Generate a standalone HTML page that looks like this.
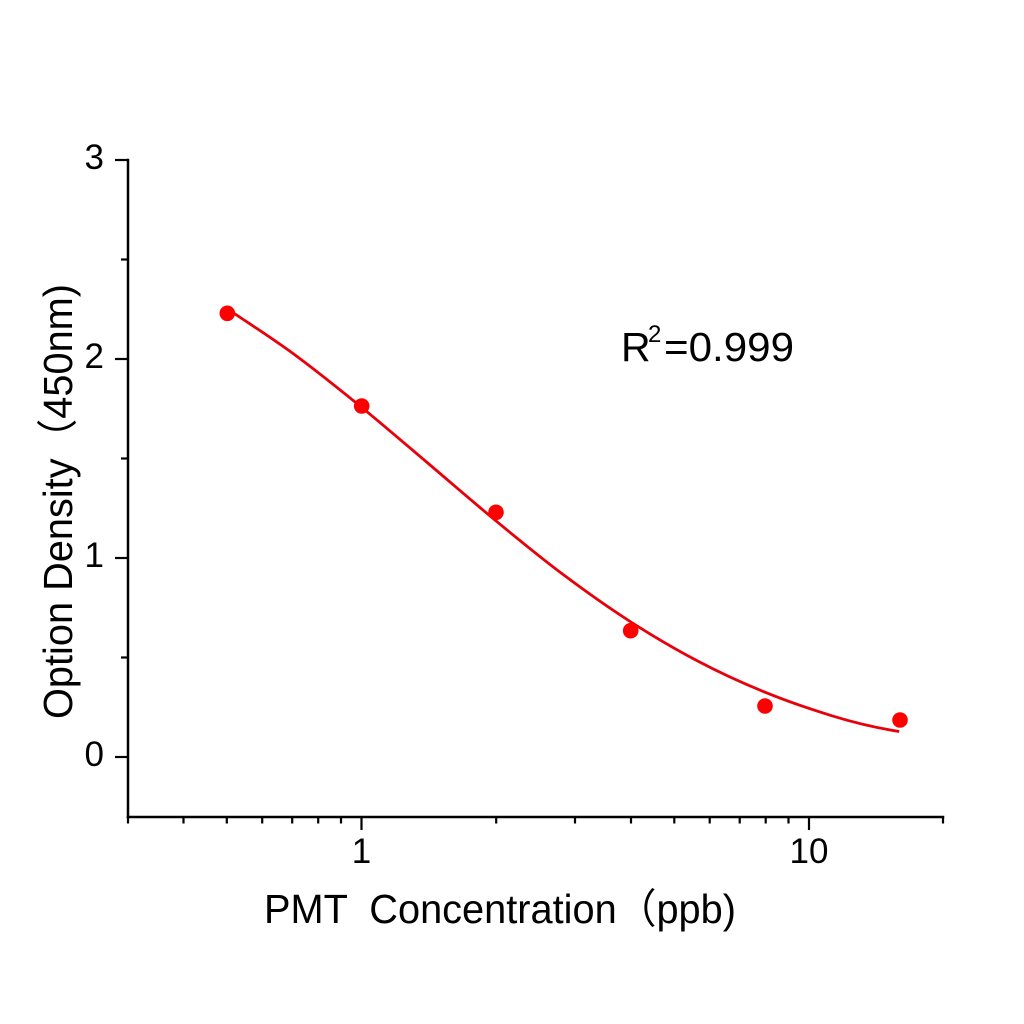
<!DOCTYPE html>
<html>
<head>
<meta charset="utf-8">
<style>
  html,body{margin:0;padding:0;background:#fff;}
  svg{display:block;}
  text{font-family:"Liberation Sans","Noto Sans CJK SC",sans-serif;fill:#000;}
</style>
</head>
<body>
<svg width="1024" height="1024" viewBox="0 0 1024 1024" xmlns="http://www.w3.org/2000/svg">
  <rect x="0" y="0" width="1024" height="1024" fill="#fff"/>

  <!-- axes -->
  <g stroke="#000" stroke-width="2.5" fill="none" stroke-linecap="square">
    <line x1="128" y1="160" x2="128" y2="817"/>
    <line x1="128" y1="817" x2="943" y2="817"/>
  </g>

  <!-- y ticks -->
  <g stroke="#000" stroke-width="2.2">
    <line x1="115" y1="160" x2="128" y2="160"/>
    <line x1="115" y1="359" x2="128" y2="359"/>
    <line x1="115" y1="558" x2="128" y2="558"/>
    <line x1="115" y1="757" x2="128" y2="757"/>
    <line x1="121" y1="259.5" x2="128" y2="259.5"/>
    <line x1="121" y1="458.5" x2="128" y2="458.5"/>
    <line x1="121" y1="657.5" x2="128" y2="657.5"/>
  </g>

  <!-- x ticks -->
  <g stroke="#000" stroke-width="2.2">
    <line x1="361.5" y1="817" x2="361.5" y2="830"/>
    <line x1="809" y1="817" x2="809" y2="830"/>
    <line x1="128" y1="817" x2="128" y2="823.5"/>
    <line x1="183.5" y1="817" x2="183.5" y2="823.5"/>
    <line x1="226.8" y1="817" x2="226.8" y2="823.5"/>
    <line x1="262.2" y1="817" x2="262.2" y2="823.5"/>
    <line x1="292.2" y1="817" x2="292.2" y2="823.5"/>
    <line x1="318.2" y1="817" x2="318.2" y2="823.5"/>
    <line x1="341" y1="817" x2="341" y2="823.5"/>
    <line x1="496.2" y1="817" x2="496.2" y2="823.5"/>
    <line x1="575" y1="817" x2="575" y2="823.5"/>
    <line x1="631" y1="817" x2="631" y2="823.5"/>
    <line x1="674.3" y1="817" x2="674.3" y2="823.5"/>
    <line x1="709.7" y1="817" x2="709.7" y2="823.5"/>
    <line x1="739.7" y1="817" x2="739.7" y2="823.5"/>
    <line x1="765.7" y1="817" x2="765.7" y2="823.5"/>
    <line x1="788.5" y1="817" x2="788.5" y2="823.5"/>
    <line x1="943" y1="817" x2="943" y2="823.5"/>
  </g>

  <!-- y tick labels -->
  <g font-size="35" text-anchor="end">
    <text x="104" y="169">3</text>
    <text x="104" y="368">2</text>
    <text x="104" y="567">1</text>
    <text x="104" y="766">0</text>
  </g>

  <!-- x tick labels -->
  <g font-size="35" text-anchor="middle">
    <text x="361.5" y="863">1</text>
    <text x="809" y="863">10</text>
  </g>

  <!-- axis titles -->
  <text x="264" y="923" font-size="41" textLength="472" lengthAdjust="spacingAndGlyphs" xml:space="preserve">PMT  Concentration（ppb)</text>
  <text transform="translate(72,719) rotate(-90)" x="0" y="0" font-size="41" textLength="435" lengthAdjust="spacingAndGlyphs">Option Density（450nm)</text>

  <!-- R^2 annotation -->
  <text x="621" y="361" font-size="41">R</text>
  <text x="648" y="342" font-size="24">2</text>
  <text x="664" y="361" font-size="41" textLength="130" lengthAdjust="spacingAndGlyphs">=0.999</text>

  <!-- fitted curve -->
  <path d="M226.4,308.1 C248.8,323.4 271.3,337.6 293.7,354.0 C316.1,370.5 338.6,388.6 361.0,406.8 C383.4,425.1 405.9,444.5 428.3,463.5 C450.7,482.5 473.2,502.1 495.6,520.6 C518.0,539.1 540.4,557.5 562.8,574.3 C585.2,591.1 607.7,607.1 630.1,621.5 C652.5,635.9 675.0,649.1 697.4,660.9 C719.8,672.7 742.3,683.0 764.7,692.1 C787.1,701.3 809.6,708.9 832.0,715.8 C854.4,722.7 876.8,728.0 899.2,731.5"
        fill="none" stroke="#e8000b" stroke-width="2.8" stroke-linejoin="round"/>

  <!-- data points -->
  <g fill="#f00">
    <circle cx="227.3" cy="313.3" r="7.8"/>
    <circle cx="361.7" cy="406" r="7.8"/>
    <circle cx="496" cy="512.3" r="7.8"/>
    <circle cx="630.7" cy="630.7" r="7.8"/>
    <circle cx="765" cy="706" r="7.8"/>
    <circle cx="900" cy="720" r="7.8"/>
  </g>
</svg>
</body>
</html>
